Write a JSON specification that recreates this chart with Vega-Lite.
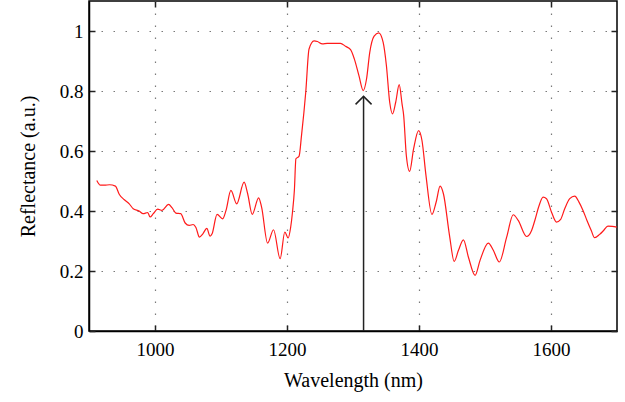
{
  "$schema": "https://vega.github.io/schema/vega-lite/v6.json",
  "width": 528,
  "height": 330,
  "autosize": "none",
  "padding": {"left": 89, "top": 1, "right": 8, "bottom": 71},
  "background": "white",
  "config": {
    "font": "Liberation Serif",
    "view": {"stroke": "black", "strokeWidth": 1.5},
    "axis": {
      "domainColor": "black",
      "domainWidth": 1.5,
      "labelColor": "black",
      "titleFontWeight": "normal",
      "titleColor": "black",
      "gridColor": "#7a7a7a",
      "gridDash": [1.5, 10.5],
      "gridWidth": 1.2,
      "gridOpacity": 1
    }
  },
  "datasets": {
    "spectrum": [
      {"w": 911.8, "r": 0.502}, {"w": 917.4, "r": 0.486}, {"w": 923.5, "r": 0.486}, {"w": 931, "r": 0.4875},
      {"w": 940, "r": 0.483}, {"w": 946, "r": 0.455}, {"w": 953.6, "r": 0.4375}, {"w": 961, "r": 0.424},
      {"w": 967, "r": 0.4075}, {"w": 976, "r": 0.4}, {"w": 982, "r": 0.391}, {"w": 989, "r": 0.395},
      {"w": 992.5, "r": 0.38}, {"w": 997.4, "r": 0.391}, {"w": 1004, "r": 0.406}, {"w": 1010.6, "r": 0.402},
      {"w": 1020.5, "r": 0.422}, {"w": 1025.7, "r": 0.411}, {"w": 1031.7, "r": 0.393}, {"w": 1039, "r": 0.391},
      {"w": 1045.7, "r": 0.36}, {"w": 1051.8, "r": 0.352}, {"w": 1057.8, "r": 0.355}, {"w": 1062, "r": 0.345},
      {"w": 1067.3, "r": 0.313}, {"w": 1072.5, "r": 0.324}, {"w": 1078.5, "r": 0.342}, {"w": 1083.5, "r": 0.316},
      {"w": 1086.5, "r": 0.324}, {"w": 1094, "r": 0.389}, {"w": 1102.6, "r": 0.374}, {"w": 1107.6, "r": 0.402},
      {"w": 1115, "r": 0.4685}, {"w": 1123.8, "r": 0.424}, {"w": 1135, "r": 0.496}, {"w": 1140.4, "r": 0.4575},
      {"w": 1147.3, "r": 0.389}, {"w": 1157, "r": 0.444}, {"w": 1161.5, "r": 0.413}, {"w": 1170.6, "r": 0.293},
      {"w": 1179.6, "r": 0.3375}, {"w": 1189.6, "r": 0.241}, {"w": 1196.7, "r": 0.33}, {"w": 1201.7, "r": 0.31},
      {"w": 1205.5, "r": 0.345}, {"w": 1208.3, "r": 0.396}, {"w": 1211.2, "r": 0.47}, {"w": 1213.5, "r": 0.574},
      {"w": 1218.3, "r": 0.583}, {"w": 1222, "r": 0.652}, {"w": 1228.4, "r": 0.796}, {"w": 1233.4, "r": 0.94},
      {"w": 1241, "r": 0.967}, {"w": 1246, "r": 0.965}, {"w": 1253.6, "r": 0.957}, {"w": 1261, "r": 0.959},
      {"w": 1281, "r": 0.959}, {"w": 1288.7, "r": 0.949}, {"w": 1296.3, "r": 0.938}, {"w": 1302, "r": 0.907},
      {"w": 1309, "r": 0.851}, {"w": 1315.5, "r": 0.8015}, {"w": 1320.5, "r": 0.84}, {"w": 1325.4, "r": 0.929},
      {"w": 1332, "r": 0.983}, {"w": 1339, "r": 0.994}, {"w": 1345.7, "r": 0.962}, {"w": 1350.6, "r": 0.885},
      {"w": 1355.6, "r": 0.7625}, {"w": 1360, "r": 0.724}, {"w": 1364.7, "r": 0.7625}, {"w": 1370, "r": 0.821},
      {"w": 1374.3, "r": 0.757}, {"w": 1376.8, "r": 0.718}, {"w": 1380.8, "r": 0.585}, {"w": 1385.8, "r": 0.532},
      {"w": 1391.8, "r": 0.607}, {"w": 1399.4, "r": 0.668}, {"w": 1404.5, "r": 0.635}, {"w": 1410.6, "r": 0.518},
      {"w": 1419.6, "r": 0.3885}, {"w": 1426, "r": 0.43}, {"w": 1432, "r": 0.483}, {"w": 1437, "r": 0.4575},
      {"w": 1446.2, "r": 0.319}, {"w": 1453.3, "r": 0.232}, {"w": 1459.8, "r": 0.269}, {"w": 1467.3, "r": 0.304},
      {"w": 1474.9, "r": 0.246}, {"w": 1485, "r": 0.1855}, {"w": 1492.5, "r": 0.2355}, {"w": 1505, "r": 0.293},
      {"w": 1512.6, "r": 0.269}, {"w": 1521.7, "r": 0.23}, {"w": 1532.8, "r": 0.313}, {"w": 1542.8, "r": 0.3875},
      {"w": 1550.3, "r": 0.3685}, {"w": 1563, "r": 0.315}, {"w": 1570.6, "r": 0.335}, {"w": 1575.5, "r": 0.3685},
      {"w": 1582, "r": 0.4185}, {"w": 1588, "r": 0.446}, {"w": 1593.2, "r": 0.441}, {"w": 1600.8, "r": 0.396},
      {"w": 1608.3, "r": 0.363}, {"w": 1614.3, "r": 0.371}, {"w": 1620.8, "r": 0.4075}, {"w": 1628.4, "r": 0.441},
      {"w": 1636, "r": 0.4495}, {"w": 1642.4, "r": 0.4295}, {"w": 1648.5, "r": 0.402}, {"w": 1654.5, "r": 0.3685},
      {"w": 1661, "r": 0.335}, {"w": 1666, "r": 0.311}, {"w": 1673.7, "r": 0.322}, {"w": 1679.7, "r": 0.335},
      {"w": 1686.2, "r": 0.3495}, {"w": 1692.8, "r": 0.3485}, {"w": 1699.7, "r": 0.346}
    ],
    "arrow": [{"w": 1316, "r0": 0, "r1": 0.782}]
  },
  "layer": [
    {
      "data": {"name": "spectrum"},
      "mark": {"type": "line", "color": "#ff1a1a", "strokeWidth": 1.2, "interpolate": "monotone"},
      "encoding": {
        "x": {
          "field": "w", "type": "quantitative",
          "scale": {"domain": [900, 1700], "nice": false, "zero": false},
          "axis": {"orient": "bottom", "values": [1000, 1200, 1400, 1600], "format": "d", "title": "Wavelength (nm)", "labelFont": "Liberation Serif", "labelFontSize": 19, "titleFont": "Liberation Serif", "titleFontSize": 20, "labelPadding": 15, "titlePadding": 11, "grid": true, "ticks": true, "tickSize": -6, "tickColor": "#222222", "tickWidth": 1.5}
        },
        "y": {
          "field": "r", "type": "quantitative",
          "scale": {"domain": [0, 1.1], "nice": false},
          "axis": {"orient": "left", "values": [0, 0.2, 0.4, 0.6, 0.8, 1], "title": "Reflectance (a.u.)", "labelFont": "Liberation Serif", "labelFontSize": 19, "titleFont": "Liberation Serif", "titleFontSize": 20, "labelPadding": 12, "titlePadding": 21, "grid": true, "ticks": true, "tickSize": -6, "tickColor": "#222222", "tickWidth": 1.5, "labelExpr": "datum.value == 0 ? '0' : datum.value == 1 ? '1' : format(datum.value, '.1f')"}
        }
      }
    },
    {
      "data": {"name": "spectrum"},
      "mark": {"type": "line", "opacity": 0},
      "encoding": {
        "x": {"field": "w", "type": "quantitative", "axis": {"orient": "top", "values": [1000, 1200, 1400, 1600], "labels": false, "title": null, "grid": false, "domain": false, "ticks": true, "tickSize": -6, "tickColor": "#222222", "tickWidth": 1.5}},
        "y": {"field": "r", "type": "quantitative", "axis": {"orient": "right", "values": [0, 0.2, 0.4, 0.6, 0.8, 1], "labels": false, "title": null, "grid": false, "domain": false, "ticks": true, "tickSize": -6, "tickColor": "#222222", "tickWidth": 1.5}}
      }
    },
    {
      "data": {"name": "arrow"},
      "mark": {"type": "rule", "color": "#222222", "strokeWidth": 1.5},
      "encoding": {
        "x": {"field": "w", "type": "quantitative", "axis": null},
        "y": {"field": "r0", "type": "quantitative", "axis": null},
        "y2": {"field": "r1"}
      }
    },
    {
      "data": {"name": "arrow"},
      "mark": {"type": "point", "shape": "M-1,1L0,0L1,1", "size": 256, "filled": false, "stroke": "#222222", "strokeWidth": 1.5, "opacity": 1},
      "encoding": {
        "x": {"field": "w", "type": "quantitative", "axis": null},
        "y": {"field": "r1", "type": "quantitative", "axis": null}
      }
    }
  ],
  "resolve": {"axis": {"x": "independent", "y": "independent"}}
}
